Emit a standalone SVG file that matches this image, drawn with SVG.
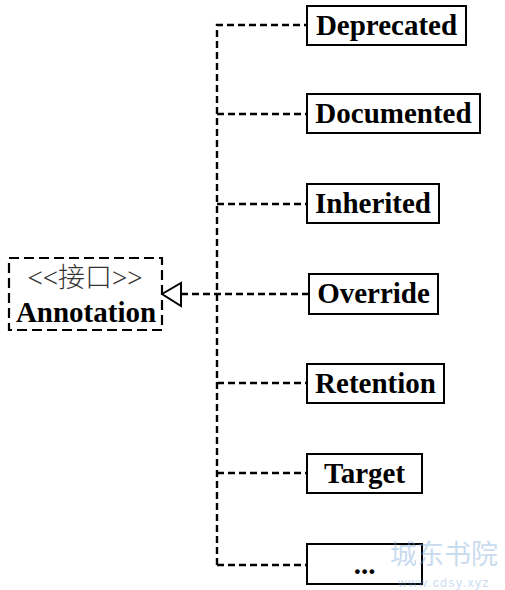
<svg xmlns="http://www.w3.org/2000/svg" width="505" height="590" viewBox="0 0 505 590">
<style>
.box{fill:#fff;stroke:#000;stroke-width:2}
.lbl{font-family:"Liberation Serif","Times New Roman",serif;font-weight:bold;font-size:29px;text-anchor:middle;fill:#000}
.conn{fill:none;stroke:#000;stroke-width:2.4;stroke-dasharray:7 4}
</style>
<rect width="505" height="590" fill="#fff"/>
<g id="connectors">
<path class="conn" d="M217,565 V25 H307"/>
<path class="conn" d="M217,114 H307"/>
<path class="conn" d="M217,204 H307"/>
<path class="conn" d="M181,294 H309"/>
<path class="conn" d="M217,383 H307"/>
<path class="conn" d="M217,473 H307"/>
<path class="conn" d="M217,565 H307"/>
<polygon points="162,294 181,283 181,306" fill="#fff" stroke="#000" stroke-width="2"/>
</g>
<g id="annotation">
<rect x="9" y="258" width="153" height="72" fill="#fff" stroke="#000" stroke-width="2.2" stroke-dasharray="10 5"/>
<text x="85" y="287" font-family="Liberation Serif,Noto Sans CJK SC,serif" font-size="27" text-anchor="middle" fill="#333" font-weight="300">&lt;&lt;接口&gt;&gt;</text>
<text class="lbl" x="86" y="322">Annotation</text>
</g>
<g id="deprecated"><rect class="box" x="307" y="6" width="159" height="39"/><text class="lbl" x="386.5" y="35">Deprecated</text></g>
<g id="documented"><rect class="box" x="307" y="94" width="173" height="39"/><text class="lbl" x="393.5" y="123">Documented</text></g>
<g id="inherited"><rect class="box" x="307" y="184" width="132" height="39"/><text class="lbl" x="373" y="213">Inherited</text></g>
<g id="override"><rect class="box" x="309" y="274" width="129" height="40"/><text class="lbl" x="373.5" y="303">Override</text></g>
<g id="retention"><rect class="box" x="307" y="364" width="137" height="39"/><text class="lbl" x="375.5" y="393">Retention</text></g>
<g id="target"><rect class="box" x="307" y="454" width="115" height="39"/><text class="lbl" x="364.5" y="483">Target</text></g>
<g id="more"><rect class="box" x="307" y="544" width="115" height="40"/><text class="lbl" x="364.5" y="574">...</text></g>
<g id="watermark" opacity="0.4" fill="#7aa6d8">
<text x="444" y="564" font-size="27" text-anchor="middle" font-family="Noto Sans CJK SC,sans-serif">城东书院</text>
<text x="444" y="587" font-size="12" text-anchor="middle" font-family="Liberation Sans,sans-serif" letter-spacing="1.5">www.cdsy.xyz</text>
</g>
</svg>
